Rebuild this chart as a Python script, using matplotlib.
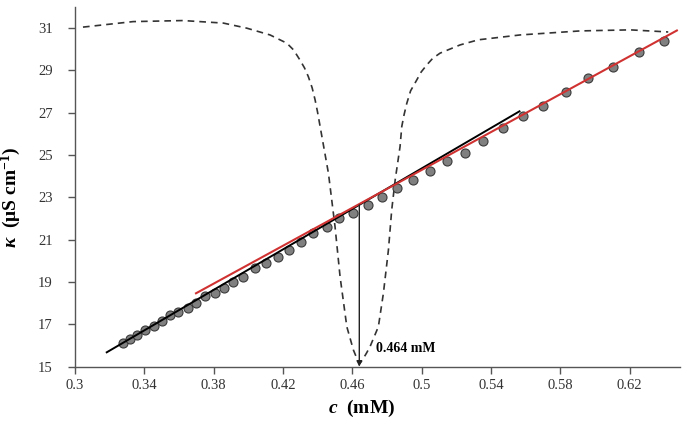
import matplotlib
matplotlib.use('Agg')
import matplotlib.pyplot as plt
from matplotlib.ticker import FuncFormatter

# measured conductivity points
c_obs = [0.3279, 0.3319, 0.3359, 0.3402, 0.3454, 0.3500, 0.3548, 0.3596, 0.3649, 0.3698,
         0.3752, 0.3806, 0.3862, 0.3913, 0.3971, 0.4039, 0.4102, 0.4170, 0.4237, 0.4306,
         0.4375, 0.4452, 0.4525, 0.4602, 0.4691, 0.4770, 0.4860, 0.4952, 0.5048, 0.5145,
         0.5250, 0.5356, 0.5471, 0.5583, 0.5702, 0.5835, 0.5962, 0.6103, 0.6253, 0.6399]
k_obs = [16.12, 16.33, 16.50, 16.74, 16.92, 17.15, 17.44, 17.59, 17.78, 18.03,
         18.32, 18.50, 18.74, 19.00, 19.26, 19.65, 19.92, 20.20, 20.52, 20.91,
         21.31, 21.61, 22.02, 22.25, 22.65, 23.04, 23.43, 23.83, 24.27, 24.73,
         25.12, 25.67, 26.26, 26.84, 27.33, 27.96, 28.65, 29.16, 29.87, 30.41]

# linear fits (end points)
fit_low_c = [0.3183, 0.5564]
fit_low_k = [15.68, 27.07]
fit_high_c = [0.3698, 0.6472]
fit_high_k = [18.47, 30.89]

# dashed derivative curve (scaled)
d_c = [0.3046, 0.3335, 0.3623, 0.3856, 0.3991, 0.4125, 0.4222, 0.4261, 0.4298, 0.4324,
       0.4346, 0.4368, 0.4385, 0.4399, 0.4414, 0.4462, 0.4500, 0.4529, 0.4568, 0.4606,
       0.4624, 0.4645, 0.4664, 0.4682, 0.4702, 0.4750, 0.4779, 0.4808, 0.4827, 0.4847,
       0.4875, 0.4885, 0.4898, 0.4914, 0.4936, 0.4972, 0.4997, 0.5029, 0.5063, 0.5106,
       0.5222, 0.5327, 0.5568, 0.5914, 0.6203, 0.6422]
d_k = [31.05, 31.31, 31.36, 31.24, 31.00, 30.68, 30.29, 29.97, 29.49, 29.12,
       28.71, 28.18, 27.61, 27.04, 26.35, 24.14, 21.62, 19.26, 16.89, 15.79,
       15.43, 15.17, 15.40, 15.65, 15.95, 16.89, 18.47, 20.52, 22.41, 23.83,
       25.40, 26.35, 26.90, 27.45, 28.04, 28.56, 28.93, 29.26, 29.57, 29.82,
       30.21, 30.45, 30.68, 30.87, 30.92, 30.82]

cmc = 0.464
cmc_k = 22.65
cmc_label = '0.464 mM'

x_ticks = [0.3, 0.34, 0.38, 0.42, 0.46, 0.5, 0.54, 0.58, 0.62]
y_ticks = [15, 17, 19, 21, 23, 25, 27, 29, 31]

plt.rcParams['font.family'] = 'Liberation Serif'
plt.rcParams['mathtext.fontset'] = 'custom'
plt.rcParams['mathtext.rm'] = 'Liberation Serif:bold'
plt.rcParams['mathtext.it'] = 'Liberation Serif:italic:bold'
plt.rcParams['mathtext.bf'] = 'Liberation Serif:bold'

fig = plt.figure(figsize=(6.85, 4.30), dpi=100)
ax = fig.add_axes([0.1095, 0.1472, 0.8832, 0.8365])

ax.plot(d_c, d_k, color='#333333', lw=1.2, ls=(0, (4, 3)), zorder=2)
ax.plot(c_obs, k_obs, 'o', ms=6.5, mfc='#808080', mec='#3a3a3a', mew=0.8, zorder=3)
ax.plot(fit_low_c, fit_low_k, color='black', lw=1.4, zorder=4)
ax.plot(fit_high_c, fit_high_k, color='#d03232', lw=1.5, zorder=5)

ax.annotate('', xy=(cmc, 15.0), xytext=(cmc, cmc_k),
            arrowprops=dict(arrowstyle='-|>', color='#222222', lw=1.0,
                            mutation_scale=8, shrinkA=0, shrinkB=0), zorder=6)
ax.text(0.4735, 15.85, cmc_label, fontsize=10, fontweight='bold', va='center', ha='left')

ax.set_xlim(0.3, 0.649)
ax.set_ylim(15, 32)
ax.set_xticks(x_ticks)
ax.set_yticks(y_ticks)
ax.xaxis.set_major_formatter(FuncFormatter(lambda v, p: '%g' % round(v, 2)))

for s in ['top', 'right']:
    ax.spines[s].set_visible(False)
for s in ['left', 'bottom']:
    ax.spines[s].set_color('#555555')
    ax.spines[s].set_linewidth(1.0)
ax.tick_params(axis='both', direction='out', length=5, width=1.0, color='#555555',
               labelsize=10.5, labelcolor='#333333')
ax.tick_params(axis='y', pad=11)
ax.tick_params(axis='x', pad=4)

ax.set_ylabel(r'$\kappa$  (μS cm$^{-1}$)', fontsize=14, fontweight='bold')
ax.yaxis.set_label_coords(-0.086, 0.47)
ax.set_xlabel(r'$c$  (mM)', fontsize=14, fontweight='bold')
ax.xaxis.set_label_coords(0.474, -0.115)
ax.xaxis.label.set_va('center')

fig.savefig('out.png', dpi=100)
